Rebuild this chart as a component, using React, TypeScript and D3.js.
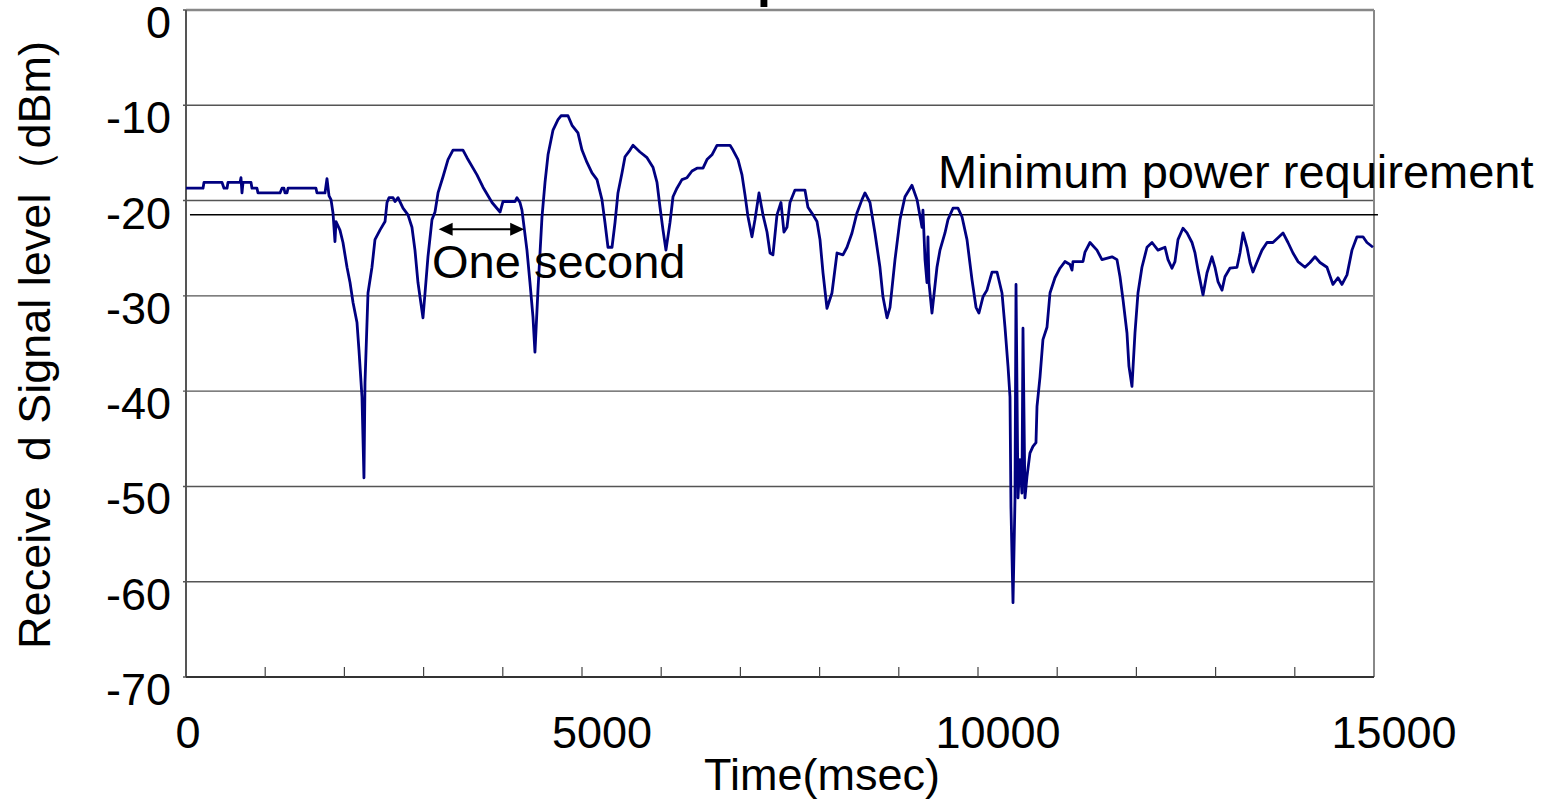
import React from "react";
import * as d3 from "d3";

// received signal level trace
const timeMs = [0,215,227,455,480,518,530,682,694,707,720,821,833,896,909,1187,1212,1237,1250,1275,1288,1641,1654,1755,1780,1806,1831,1856,1881,1894,1944,1982,2033,2071,2109,2159,2184,2222,2247,2260,2298,2348,2386,2449,2513,2538,2563,2614,2639,2677,2740,2803,2853,2891,2929,2992,3018,3055,3106,3144,3182,3245,3308,3371,3497,3548,3674,3750,3864,3965,4002,4154,4179,4217,4242,4305,4343,4381,4406,4444,4495,4533,4571,4634,4697,4735,4823,4874,4949,5000,5063,5126,5189,5252,5290,5328,5379,5417,5454,5505,5543,5606,5644,5732,5821,5896,5947,5985,6023,6060,6111,6149,6199,6262,6326,6389,6452,6528,6578,6641,6704,6869,6906,6970,7020,7058,7096,7146,7184,7235,7285,7336,7374,7411,7462,7512,7550,7588,7626,7689,7815,7853,7917,7967,8005,8043,8093,8156,8220,8295,8346,8409,8472,8535,8573,8636,8699,8762,8800,8851,8889,8952,9015,9078,9166,9230,9293,9305,9331,9356,9368,9381,9419,9482,9520,9583,9621,9684,9747,9798,9861,9924,9975,10012,10063,10113,10177,10240,10303,10341,10379,10404,10416,10442,10467,10480,10505,10530,10555,10568,10593,10618,10656,10694,10732,10745,10783,10820,10871,10909,10972,11035,11098,11161,11187,11199,11326,11351,11414,11502,11565,11692,11755,11793,11831,11881,11906,11944,11982,12020,12070,12134,12197,12272,12361,12399,12449,12487,12525,12588,12639,12702,12740,12778,12841,12891,12954,12992,13030,13081,13118,13181,13270,13308,13346,13396,13434,13472,13535,13586,13649,13724,13788,13851,13914,13977,14040,14128,14192,14255,14318,14406,14482,14545,14596,14659,14722,14785,14861,14911,14987];

const levelDbm = [-18.7,-18.7,-18.1,-18.1,-18.7,-18.7,-18.1,-18.1,-17.6,-19.2,-18.1,-18.1,-18.7,-18.7,-19.2,-19.2,-18.7,-18.7,-19.2,-19.2,-18.7,-18.7,-19.2,-19.2,-17.7,-19.5,-19.9,-21.3,-24.3,-22.2,-23.1,-24.4,-27.0,-28.6,-30.7,-32.8,-35.7,-40.6,-49.1,-39.1,-29.7,-27.0,-24.1,-23.1,-22.2,-20.2,-19.7,-19.7,-20.1,-19.7,-20.8,-21.5,-22.8,-25.2,-28.6,-32.3,-29.7,-25.9,-22.0,-21.2,-19.2,-17.5,-15.7,-14.7,-14.7,-15.5,-17.3,-18.6,-20.2,-21.2,-20.1,-20.1,-19.7,-20.2,-21.0,-25.2,-28.6,-32.2,-35.9,-29.4,-21.7,-18.1,-15.2,-12.6,-11.5,-11.1,-11.1,-12.1,-12.9,-14.7,-16.0,-17.1,-17.8,-19.9,-22.3,-24.9,-24.9,-22.3,-19.2,-17.1,-15.4,-14.7,-14.2,-14.9,-15.5,-16.5,-18.1,-20.7,-23.1,-25.2,-22.3,-19.6,-18.7,-17.8,-17.6,-16.9,-16.6,-16.6,-15.7,-15.2,-14.2,-14.2,-14.7,-15.7,-17.3,-19.4,-21.7,-23.8,-22.0,-19.2,-21.5,-23.3,-25.5,-25.7,-21.5,-20.2,-23.3,-22.8,-20.2,-18.9,-18.9,-20.7,-21.5,-22.2,-24.1,-27.6,-31.3,-29.7,-25.5,-25.7,-24.9,-23.4,-21.3,-19.9,-19.2,-20.2,-23.4,-27.0,-30.1,-32.3,-31.2,-26.2,-22.0,-19.6,-18.4,-19.9,-22.8,-21.0,-26.2,-28.6,-23.8,-28.6,-31.8,-27.0,-25.2,-23.4,-22.0,-20.8,-20.8,-21.7,-24.1,-28.3,-31.2,-31.8,-30.1,-29.4,-27.5,-27.5,-29.7,-33.3,-37.4,-40.6,-52.1,-62.2,-51.4,-28.8,-51.2,-47.2,-50.7,-33.4,-51.2,-49.0,-46.5,-45.8,-45.4,-41.6,-38.5,-34.6,-33.3,-29.7,-28.1,-27.1,-26.4,-26.7,-27.3,-26.4,-26.4,-25.4,-24.4,-25.2,-26.2,-25.9,-26.2,-28.0,-30.4,-33.9,-37.4,-39.5,-33.9,-29.7,-27.0,-24.9,-24.4,-25.2,-24.9,-26.2,-27.1,-26.4,-24.1,-22.9,-23.4,-24.4,-25.5,-27.3,-29.9,-27.6,-25.9,-27.0,-28.5,-29.4,-28.0,-27.1,-27.0,-25.5,-23.4,-24.9,-26.5,-27.5,-26.2,-25.2,-24.4,-24.4,-23.9,-23.4,-24.4,-25.5,-26.4,-27.0,-26.5,-25.9,-26.5,-27.0,-28.8,-28.1,-28.8,-27.8,-25.2,-23.8,-23.8,-24.4,-24.9];

const yTicks = [0, -10, -20, -30, -40, -50, -60, -70];
const xTicks = [0, 5000, 10000, 15000];
const xMinorTicks = d3.range(1000, 15000, 1000);

const minPowerLevel = -21.5;
const minPowerSpan = [50, 15050];
const oneSecondArrow = [3190, 4270];
const oneSecondLevel = -23.0;

const font = "'Liberation Sans', Arial, Helvetica, sans-serif";

const App = () => {
  const width = 1541;
  const height = 802;
  const margin = { top: 10, right: 167, bottom: 125, left: 186 };

  const x_scale = d3
    .scaleLinear()
    .domain([0, 15000])
    .range([margin.left, width - margin.right]);

  const y_scale = d3
    .scaleLinear()
    .domain([-70, 0])
    .range([height - margin.bottom, margin.top]);

  const points = timeMs.map((t, i) => [t, levelDbm[i]]).filter((d) => d[1] !== undefined);

  const line = d3
    .line()
    .x((d) => x_scale(d[0]))
    .y((d) => y_scale(d[1]));

  const x0 = x_scale(0);
  const x1 = x_scale(15000);
  const yTop = y_scale(0);
  const yBottom = y_scale(-70);

  const ax1 = x_scale(oneSecondArrow[0]);
  const ax2 = x_scale(oneSecondArrow[1]);
  const ay = y_scale(oneSecondLevel);

  return (
    <svg
      width={width}
      height={height}
      style={{ position: "absolute", left: 0, top: 0, background: "#fff" }}
      fontFamily={font}
    >
      {/* cut-off title */}
      <text x={757} y={-3} fontSize={50} fontWeight="bold" fill="#000">
        p
      </text>

      {/* grid */}
      {yTicks.map((v) => (
        <line
          key={"g" + v}
          x1={x0 - 3}
          x2={x1}
          y1={y_scale(v)}
          y2={y_scale(v)}
          stroke="#555"
          strokeWidth={1.4}
        />
      ))}

      {/* frame */}
      <line x1={x0} x2={x1} y1={yTop} y2={yTop} stroke="#888" strokeWidth={2.5} />
      <line x1={x1} x2={x1} y1={yTop} y2={yBottom} stroke="#888" strokeWidth={2} />
      <line x1={x0} x2={x0} y1={yTop} y2={yBottom} stroke="#555" strokeWidth={2} />
      <line x1={x0} x2={x1} y1={yBottom} y2={yBottom} stroke="#333" strokeWidth={2} />

      {xMinorTicks.map((t) => (
        <line
          key={"m" + t}
          x1={x_scale(t)}
          x2={x_scale(t)}
          y1={yBottom - 10}
          y2={yBottom}
          stroke="#444"
          strokeWidth={1.2}
        />
      ))}

      {/* tick labels */}
      {yTicks.map((v) => (
        <text
          key={"yl" + v}
          x={171}
          y={y_scale(v) + 28}
          textAnchor="end"
          fontSize={45}
          fill="#000"
        >
          {v}
        </text>
      ))}
      {xTicks.map((t, i) => (
        <text
          key={"xl" + t}
          x={x_scale(t) + (i === 0 ? 2 : 20)}
          y={748}
          textAnchor="middle"
          fontSize={45}
          fill="#000"
        >
          {t}
        </text>
      ))}

      {/* axis titles */}
      <text x={822} y={790} textAnchor="middle" fontSize={45} fill="#000">
        Time(msec)
      </text>
      <text
        transform="translate(50,345) rotate(-90)"
        textAnchor="middle"
        fontSize={45}
        fill="#000"
        style={{ whiteSpace: "pre" }}
      >
        {"Receive  d Signal level（dBm)"}
      </text>

      {/* minimum power requirement */}
      <line
        x1={x_scale(minPowerSpan[0])}
        x2={x_scale(minPowerSpan[1])}
        y1={y_scale(minPowerLevel)}
        y2={y_scale(minPowerLevel)}
        stroke="#000"
        strokeWidth={1.5}
      />
      <text x={938} y={188} fontSize={47} fill="#000">
        Minimum power requirement
      </text>

      {/* signal trace */}
      <path
        d={line(points)}
        fill="none"
        stroke="#000080"
        strokeWidth={2.8}
        strokeLinejoin="round"
      />

      {/* one second annotation */}
      <line x1={ax1 + 10} x2={ax2 - 10} y1={ay} y2={ay} stroke="#000" strokeWidth={2} />
      <path d={`M${ax1},${ay} l14,-6.5 v13 z`} fill="#000" />
      <path d={`M${ax2},${ay} l-14,-6.5 v13 z`} fill="#000" />
      <text x={432} y={278} fontSize={47} fill="#000">
        One second
      </text>
    </svg>
  );
};

export default App;
